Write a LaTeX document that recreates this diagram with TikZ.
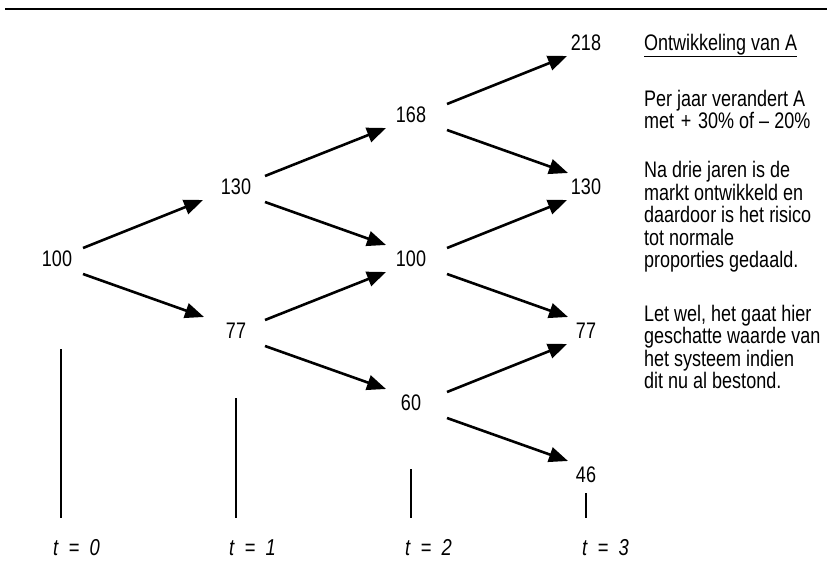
\documentclass[tikz,border=0pt]{standalone}
\usepackage{fontspec}
\setmainfont{Liberation Sans}[FakeStretch=0.8]
\usetikzlibrary{arrows.meta}
\begin{document}
\begin{tikzpicture}
[x=1pt,y=-1pt,
  valnode/.style={inner sep=0pt,font=\fontsize{22.5}{25}\selectfont},%
  timenode/.style={anchor=west,inner sep=0pt,font=\fontsize{23}{25}\selectfont\itshape},%
  stepline/.style={-{Triangle[length=19pt,width=15pt]},line width=2.6pt},%
  tickline/.style={line width=2pt},%
  notetext/.style={anchor=base west,inner sep=0pt,align=left,font=\fontsize{22.5}{22.4}\selectfont}]
\useasboundingbox (0,0) rectangle (827,580);
%% top rule
\draw[line width=2.5pt] (5,9) -- (827,9);
%% values of A
\foreach \nodename/\x/\y/\val in {n0/57/259/100, n1a/236/187/130, n1b/236/331/77,
  n2a/411/115/168, n2b/411/259/100, n2c/411/403/60,
  n3a/586/43/218, n3b/586/187/130, n3c/586/331/77, n3d/586/475/46} {
  \node (\nodename) at (\x,\y) [valnode] {\val};
}
%% up steps
\foreach \startnode/\endnode/\sx/\ex in {n0/n1a/26/-33, n1a/n2a/29/-25, n1b/n2b/29/-25,
  n2a/n3a/36/-19, n2b/n3b/36/-19, n2c/n3c/36/-19} {
  \draw[stepline] ([shift={(\sx,-11)}]\startnode.center) -- ([shift={(\ex,13)}]\endnode.center);
}
%% down steps
\foreach \startnode/\endnode/\sx/\ex in {n0/n1b/26/-32, n1a/n2b/29/-25, n1b/n2c/29/-25,
  n2a/n3b/36/-18, n2b/n3c/36/-18, n2c/n3d/36/-18} {
  \draw[stepline] ([shift={(\sx,15)}]\startnode.center) -- ([shift={(\ex,-14)}]\endnode.center);
}
%% time axis
\foreach \x/\top/\lx/\t in {61/349/53/0, 236/398/229/1, 411/469/405/2, 586/493/582/3} {
  \draw[tickline] (\x,\top) -- (\x,518);
  \node (t\t) at (\lx,548) [timenode] {t\hspace{0.45em}=\hspace{0.45em}\t};
}
%% notes (anchored at the baseline of the last line)
\node (title) at (644,50.5) [notetext] {\underline{Ontwikkeling van A}};
\node (rate) at (644,128.5) [notetext] {Per jaar verandert A\\met\hspace{0.3em}+\hspace{0.3em}30\% of – 20\%};
\node (market) at (644,267.5) [notetext] {Na drie jaren is de\\markt ontwikkeld en\\daardoor is het risico\\tot normale\\proporties gedaald.};
\node (remark) at (644,388.5) [notetext] {Let wel, het gaat hier\\geschatte waarde van\\het systeem indien\\dit nu al bestond.};
\end{tikzpicture}
\end{document}
